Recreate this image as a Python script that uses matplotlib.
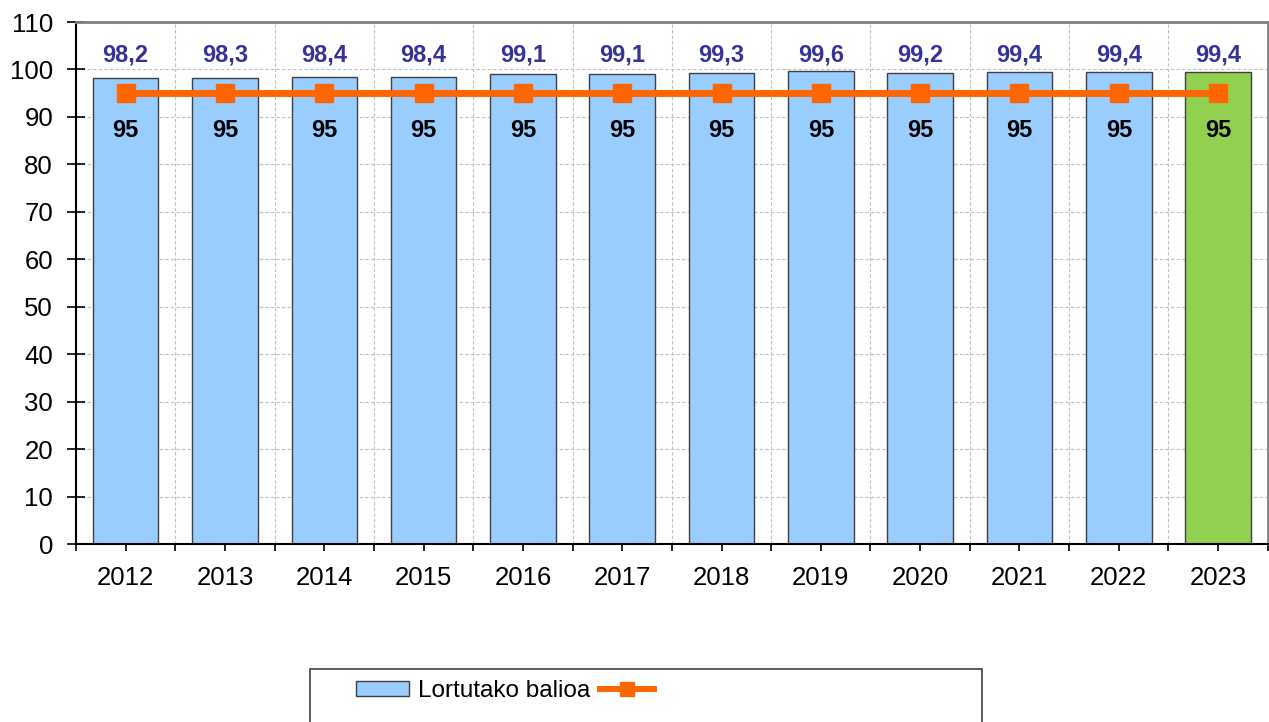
import matplotlib.pyplot as plt
from matplotlib.patches import Rectangle
from matplotlib.lines import Line2D
import numpy as np

# data
years = ['2012', '2013', '2014', '2015', '2016', '2017',
         '2018', '2019', '2020', '2021', '2022', '2023']
values = [98.2, 98.3, 98.4, 98.4, 99.1, 99.1, 99.3, 99.6, 99.2, 99.4, 99.4, 99.4]
target = [95, 95, 95, 95, 95, 95, 95, 95, 95, 95, 95, 95]

blue = '#99CCFF'
green = '#92D050'
orange = '#FF6600'

x = np.arange(len(years))
colors = [blue] * (len(years) - 1) + [green]

fig = plt.figure(figsize=(12.69, 7.22), dpi=100)
ax = fig.add_axes([0.0599, 0.2465, 0.9391, 0.7230])

ax.bar(x, values, width=0.66, color=colors, edgecolor='#404040', linewidth=1, zorder=2)
ax.plot(x, target, color=orange, linewidth=5, marker='s', markersize=13.5, zorder=3)

# etiquetas
for i, v in enumerate(values):
    ax.text(i, 101.6, f'{v:.1f}'.replace('.', ','), ha='center', va='baseline',
            fontsize=17, fontweight='bold', color='#333399', family='Liberation Sans')
for i, t in enumerate(target):
    ax.text(i, 85.8, str(t), ha='center', va='baseline',
            fontsize=17, fontweight='bold', color='black', family='Liberation Sans')

ax.set_xlim(-0.5, len(years) - 0.5)
ax.set_ylim(0, 110)
ax.set_yticks(range(0, 111, 10))
ax.set_xticks(x)
ax.set_xticklabels(years)
ax.set_xticks(np.arange(-0.5, len(years), 1), minor=True)
ax.tick_params(axis='x', which='both', direction='out', length=5, width=1.2, pad=11,
               labelsize=18.5)
ax.tick_params(axis='y', direction='inout', length=13, width=1.2, pad=10, labelsize=18.5)
for lab in ax.get_xticklabels() + ax.get_yticklabels():
    lab.set_family('Liberation Sans')

ax.grid(True, axis='y', color='#C0C0C0', linestyle=(0, (3, 2)), linewidth=0.8, zorder=0)
ax.grid(True, axis='x', which='minor', color='#C0C0C0', linestyle=(0, (3, 2)),
        linewidth=0.8, zorder=0)
ax.set_axisbelow(True)

ax.spines['left'].set_color('black')
ax.spines['left'].set_linewidth(1.5)
ax.spines['bottom'].set_color('black')
ax.spines['bottom'].set_linewidth(1.5)
ax.spines['top'].set_color('#808080')
ax.spines['top'].set_linewidth(2)
ax.spines['right'].set_color('#808080')
ax.spines['right'].set_linewidth(2)

# leyenda
fig.patches.append(Rectangle((310 / 1269, -0.05), 672 / 1269, 0.05 + 53 / 722,
                             transform=fig.transFigure, facecolor='white',
                             edgecolor='#404040', linewidth=1.2))
handles = [Rectangle((0, 0), 1, 1, facecolor=blue, edgecolor='#404040'),
           Line2D([], [], color=orange, linewidth=4.3, marker='s', markersize=9.5)]
fig.legend(handles, ['Lortutako balioa', ''], loc='center left',
           bbox_to_anchor=(356 / 1269, 1 - 691 / 722), ncol=2, frameon=False,
           prop={'family': 'Liberation Sans', 'size': 17.5},
           handlelength=2.2, handleheight=0.62, handletextpad=0.37,
           columnspacing=0.4, borderpad=0, borderaxespad=0)

plt.savefig('out.png', dpi=100)
